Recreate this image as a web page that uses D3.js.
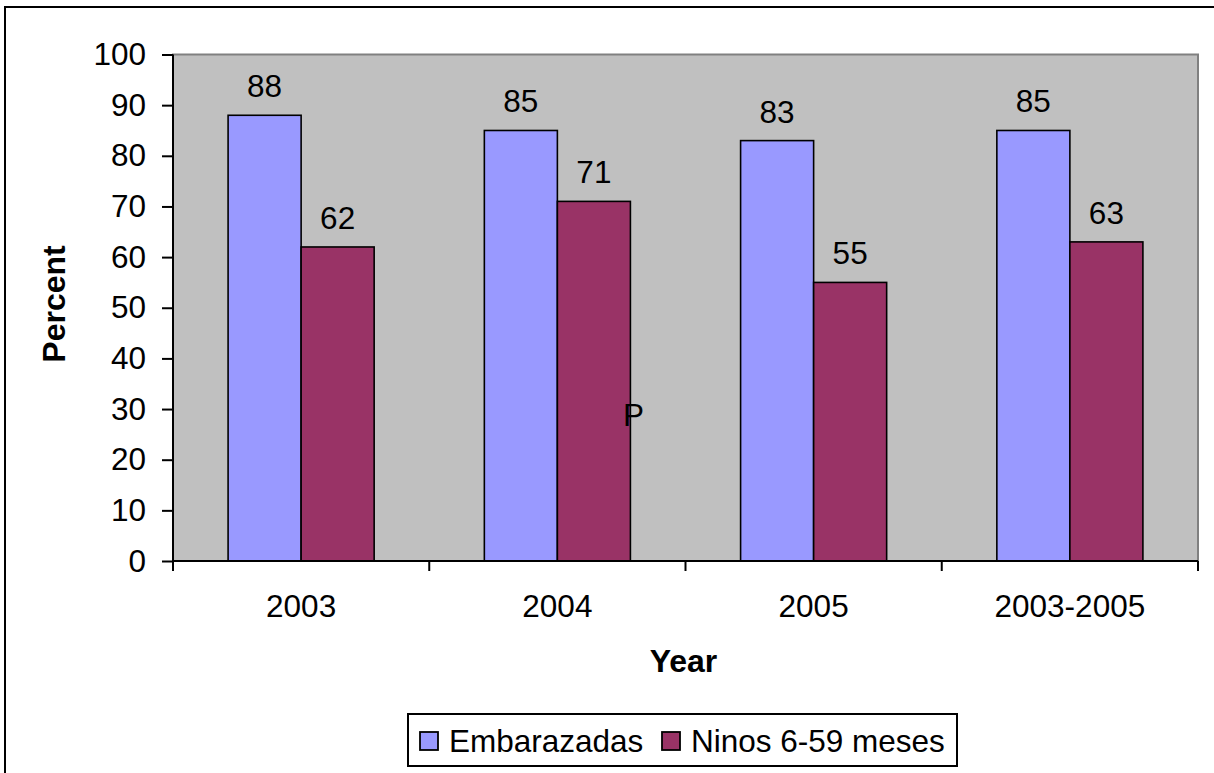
<!DOCTYPE html>
<html>
<head>
<meta charset="utf-8">
<script src="https://cdn.jsdelivr.net/npm/d3@7"></script>
<style>
  body { margin: 0; background: #fff; }
  svg { display: block; font-family: "Liberation Sans", Arial, sans-serif; }
</style>
</head>
<body>
<svg id="chart" width="1214" height="773"></svg>
<script>
const categories = ["2003", "2004", "2005", "2003-2005"];
const seriesNames = ["Embarazadas", "Ninos 6-59 meses"];
const embarazadas = [88, 85, 83, 85];
const ninos = [62, 71, 55, 63];
const yTicks = [0, 10, 20, 30, 40, 50, 60, 70, 80, 90, 100];
const colors = ["#9999ff", "#993366"];
const strayText = "P";

const FS = 31.5, FSB = 32;
const svg = d3.select("#chart");
const W = 1214, H = 773;
const plot = { left: 173, right: 1198, top: 54.5, bottom: 561 };

// outer chart border (extends past right/bottom edges)
svg.append("rect").attr("x", 5).attr("y", 7).attr("width", W + 20).attr("height", H + 20)
  .attr("fill", "#fff").attr("stroke", "#000").attr("stroke-width", 2);

const x = d3.scaleBand().domain(categories).range([plot.left, plot.right])
  .paddingInner(0.43).paddingOuter(0.215);
const xSub = d3.scaleBand().domain(seriesNames).range([0, x.bandwidth()]);
const y = d3.scaleLinear().domain([0, 100]).range([plot.bottom, plot.top]);

// plot area
svg.append("rect").attr("x", plot.left).attr("y", plot.top)
  .attr("width", plot.right - plot.left).attr("height", plot.bottom - plot.top)
  .attr("fill", "#c0c0c0").attr("stroke", "#808080").attr("stroke-width", 2);

const data = categories.map((c, i) => ({ cat: c, vals: [embarazadas[i], ninos[i]] }));

const groups = svg.append("g").selectAll("g").data(data).join("g")
  .attr("transform", d => `translate(${x(d.cat)},0)`);

groups.selectAll("rect").data(d => d.vals.map((v, j) => ({ v, s: seriesNames[j], j })))
  .join("rect")
  .attr("x", d => xSub(d.s))
  .attr("y", d => y(d.v))
  .attr("width", xSub.bandwidth())
  .attr("height", d => y(0) - y(d.v))
  .attr("fill", d => colors[d.j])
  .attr("stroke", "#000").attr("stroke-width", 1.6);

groups.selectAll("text").data(d => d.vals.map((v, j) => ({ v, s: seriesNames[j], j })))
  .join("text")
  .attr("x", d => xSub(d.s) + xSub.bandwidth() / 2)
  .attr("y", d => y(d.v) - 18)
  .attr("text-anchor", "middle")
  .attr("font-size", FS)
  .attr("fill", "#000")
  .text(d => d.v);

// y axis
const yAxis = d3.axisLeft(y).tickValues(yTicks).tickSize(11).tickPadding(16);
const gy = svg.append("g").attr("transform", `translate(${plot.left},0)`).call(yAxis);
gy.select(".domain").attr("stroke", "#000").attr("stroke-width", 2).attr("d", `M-0,${plot.top}V${plot.bottom}`);
gy.selectAll(".tick line").attr("stroke", "#000").attr("stroke-width", 2);
gy.selectAll(".tick text").attr("font-size", FS).attr("fill", "#000")
  .attr("font-family", "Liberation Sans, Arial, sans-serif");

// x axis with ticks at category boundaries
const gx = svg.append("g").attr("transform", `translate(0,${plot.bottom})`);
gx.append("line").attr("x1", plot.left).attr("x2", plot.right).attr("y1", 0).attr("y2", 0)
  .attr("stroke", "#000").attr("stroke-width", 2);
const boundaries = categories.map(c => x(c) - x.step() * x.paddingInner() / 2)
  .concat([plot.right]);
gx.selectAll("line.tk").data(boundaries).join("line").attr("class", "tk")
  .attr("x1", d => d).attr("x2", d => d).attr("y1", 0).attr("y2", 10)
  .attr("stroke", "#000").attr("stroke-width", 2);
gx.selectAll("text").data(categories).join("text")
  .attr("x", d => x(d) + x.bandwidth() / 2)
  .attr("y", 56)
  .attr("text-anchor", "middle")
  .attr("font-size", FS)
  .text(d => d);

// axis titles
svg.append("text").attr("transform", "translate(65,304) rotate(-90)")
  .attr("text-anchor", "middle").attr("font-size", FSB).attr("font-weight", "bold")
  .text("Percent");
svg.append("text").attr("x", (plot.left + plot.right) / 2 - 2).attr("y", 672)
  .attr("text-anchor", "middle").attr("font-size", FSB).attr("font-weight", "bold")
  .text("Year");

// stray text
svg.append("text").attr("x", 623).attr("y", 426).attr("font-size", FS).text(strayText);

// legend
const lg = svg.append("g");
lg.append("rect").attr("x", 408).attr("y", 714).attr("width", 549).attr("height", 52)
  .attr("fill", "#fff").attr("stroke", "#000").attr("stroke-width", 2);
const legendX = [420, 662];
seriesNames.forEach((s, i) => {
  lg.append("rect").attr("x", legendX[i]).attr("y", 732).attr("width", 18).attr("height", 18)
    .attr("fill", colors[i]).attr("stroke", "#000").attr("stroke-width", 1.8);
  lg.append("text").attr("x", legendX[i] + 29).attr("y", 752).attr("font-size", FS).text(s);
});
</script>
</body>
</html>
